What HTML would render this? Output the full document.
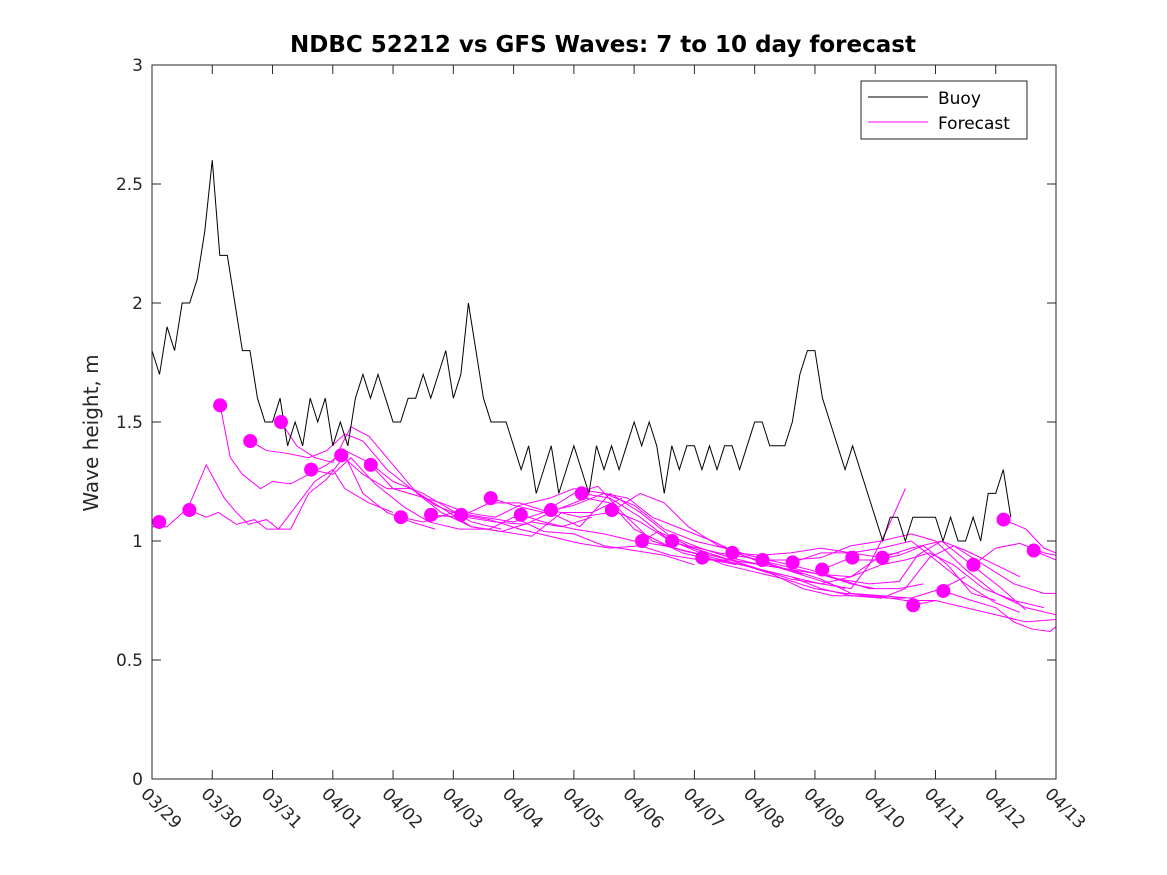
<!DOCTYPE html>
<html><head><meta charset="utf-8"><style>
body{margin:0;background:#fff;}
svg{display:block;font-family:"DejaVu Sans","Liberation Sans",sans-serif;}
</style></head><body>
<svg id="chart" width="1167" height="875"></svg>
<script>
const yTicks=[0,0.5,1,1.5,2,2.5,3];
const yTickLabels=["0","0.5","1","1.5","2","2.5","3"];
const xTickLabels=["03/29","03/30","03/31","04/01","04/02","04/03","04/04","04/05","04/06","04/07","04/08","04/09","04/10","04/11","04/12","04/13"];
const buoyStep=0.125;
const buoy=[1.8,1.7,1.9,1.8,2.0,2.0,2.1,2.3,
2.6,2.2,2.2,2.0,1.8,1.8,1.6,1.5,
1.5,1.6,1.4,1.5,1.4,1.6,1.5,1.6,
1.4,1.5,1.4,1.6,1.7,1.6,1.7,1.6,
1.5,1.5,1.6,1.6,1.7,1.6,1.7,1.8,
1.6,1.7,2.0,1.8,1.6,1.5,1.5,1.5,
1.4,1.3,1.4,1.2,1.3,1.4,1.2,1.3,
1.4,1.3,1.2,1.4,1.3,1.4,1.3,1.4,
1.5,1.4,1.5,1.4,1.2,1.4,1.3,1.4,
1.4,1.3,1.4,1.3,1.4,1.4,1.3,1.4,
1.5,1.5,1.4,1.4,1.4,1.5,1.7,1.8,
1.8,1.6,1.5,1.4,1.3,1.4,1.3,1.2,
1.1,1.0,1.1,1.1,1.0,1.1,1.1,1.1,
1.1,1.0,1.1,1.0,1.0,1.1,1.0,1.2,
1.2,1.3,1.1];
const dotDays=[0.12,0.62,1.13,1.63,2.14,2.64,3.14,3.63,4.13,4.63,5.13,5.62,6.12,6.62,7.13,7.63,8.13,8.63,9.13,9.63,10.13,10.63,11.12,11.62,12.12,12.63,13.13,13.63,14.13,14.63];
const dotVals=[1.08,1.13,1.57,1.42,1.5,1.3,1.36,1.32,1.10,1.11,1.11,1.18,1.11,1.13,1.20,1.13,1.0,1.0,0.93,0.95,0.92,0.91,0.88,0.93,0.93,0.73,0.79,0.90,1.09,0.96];
const fc=[
[[0,1.06],[0.25,1.06],[0.6,1.14],[0.9,1.32],[1.2,1.18],[1.4,1.12],[1.6,1.07],[1.9,1.09],[2.1,1.05],[2.4,1.15],[2.7,1.25],[3.0,1.3],[3.2,1.22],[3.6,1.16],[4.0,1.12]],
[[0.62,1.13],[0.9,1.10],[1.1,1.12],[1.4,1.07],[1.7,1.09],[1.9,1.05],[2.3,1.05],[2.6,1.2],[2.9,1.26],[3.2,1.36],[3.5,1.2],[3.9,1.12],[4.3,1.08],[4.7,1.05]],
[[1.13,1.57],[1.3,1.35],[1.5,1.28],[1.8,1.22],[2.0,1.25],[2.3,1.24],[2.6,1.28],[2.9,1.32],[3.2,1.38],[3.6,1.33],[4.0,1.25],[4.5,1.2],[4.9,1.14],[5.3,1.08],[5.8,1.05]],
[[1.63,1.42],[1.9,1.38],[2.2,1.37],[2.6,1.35],[2.9,1.38],[3.2,1.45],[3.5,1.42],[3.9,1.3],[4.3,1.22],[4.8,1.14],[5.3,1.06],[5.8,1.04],[6.3,1.08],[6.8,1.06],[7.3,1.1]],
[[2.14,1.5],[2.4,1.40],[2.7,1.35],[3.0,1.33],[3.3,1.48],[3.6,1.44],[4.0,1.32],[4.4,1.2],[4.8,1.12],[5.3,1.06],[5.8,1.04],[6.3,1.02],[6.8,1.12],[7.3,1.12],[7.8,1.18]],
[[2.64,1.3],[3.0,1.28],[3.3,1.35],[3.7,1.24],[4.2,1.14],[4.6,1.08],[5.1,1.05],[5.6,1.05],[6.0,1.1],[6.5,1.04],[7.0,1.03],[7.5,0.98],[8.0,0.96],[8.5,0.94],[9.0,0.9]],
[[3.14,1.36],[3.5,1.28],[3.9,1.22],[4.3,1.22],[4.7,1.15],[5.2,1.1],[5.7,1.08],[6.2,1.07],[6.7,1.13],[7.2,1.18],[7.6,1.16],[8.0,1.05],[8.4,1.0],[8.8,0.95],[9.3,0.92],[9.7,0.9]],
[[3.63,1.32],[4.0,1.22],[4.4,1.19],[4.8,1.16],[5.2,1.12],[5.7,1.1],[6.1,1.15],[6.6,1.18],[7.0,1.22],[7.5,1.2],[7.9,1.18],[8.3,1.1],[8.8,1.05],[9.3,1.0],[9.8,0.94],[10.3,0.9],[10.8,0.86]],
[[4.13,1.10],[4.5,1.08],[5.0,1.12],[5.5,1.1],[6.0,1.08],[6.5,1.12],[7.0,1.15],[7.5,1.2],[8.0,1.15],[8.5,1.05],[9.0,1.0],[9.5,0.97],[10.0,0.92],[10.5,0.88],[11.0,0.84],[11.5,0.80]],
[[4.63,1.11],[5.1,1.1],[5.6,1.16],[6.1,1.16],[6.6,1.12],[7.1,1.06],[7.6,1.2],[8.1,1.12],[8.6,1.02],[9.1,0.97],[9.6,0.93],[10.1,0.90],[10.6,0.88],[11.1,0.86],[11.6,0.82],[12.0,0.8]],
[[5.13,1.11],[5.6,1.09],[6.1,1.05],[6.6,1.02],[7.1,0.99],[7.6,0.97],[8.1,0.98],[8.6,0.94],[9.1,0.92],[9.6,0.92],[10.1,0.88],[10.6,0.84],[11.1,0.82],[11.6,0.85],[12.1,0.94],[12.4,0.95]],
[[5.62,1.18],[6.0,1.15],[6.5,1.12],[7.0,1.2],[7.4,1.23],[7.8,1.12],[8.3,1.0],[8.8,0.96],[9.3,0.93],[9.8,0.90],[10.3,0.86],[10.8,0.80],[11.3,0.77],[11.8,0.77],[12.2,0.76],[12.5,0.76]],
[[6.12,1.11],[6.5,1.08],[7.0,1.05],[7.5,1.03],[8.0,1.0],[8.5,0.98],[9.0,0.95],[9.5,0.9],[10.0,0.87],[10.5,0.84],[11.0,0.80],[11.5,0.78],[12.0,0.77],[12.5,0.75],[13.0,0.75]],
[[6.62,1.13],[7.1,1.1],[7.6,1.12],[8.1,1.2],[8.5,1.16],[8.9,1.06],[9.4,0.98],[9.9,0.94],[10.4,0.91],[10.9,0.88],[11.4,0.84],[11.9,0.80],[12.4,0.80],[12.8,0.82]],
[[7.13,1.2],[7.6,1.18],[8.1,1.1],[8.6,1.0],[9.1,0.96],[9.6,0.92],[10.1,0.88],[10.6,0.85],[11.1,0.82],[11.6,0.80],[11.9,0.90],[12.2,1.05],[12.5,1.22]],
[[7.63,1.13],[8.1,1.08],[8.6,1.0],[9.1,0.96],[9.6,0.92],[10.1,0.9],[10.6,0.88],[11.1,0.84],[11.6,0.78],[12.1,0.77],[12.6,0.76],[13.1,0.8],[13.5,0.85]],
[[8.13,1.0],[8.4,1.04],[8.9,0.98],[9.4,0.95],[9.9,0.93],[10.4,0.9],[10.9,0.87],[11.4,0.84],[11.9,0.82],[12.4,0.83],[12.7,0.94],[13.1,1.0],[13.5,0.96],[14.0,0.9],[14.4,0.85]],
[[8.63,1.0],[9.1,0.95],[9.6,0.92],[10.1,0.9],[10.6,0.88],[11.1,0.86],[11.6,0.85],[12.1,0.9],[12.5,0.92],[12.9,0.95],[13.3,0.9],[13.8,0.8],[14.3,0.75],[14.8,0.72]],
[[9.13,0.93],[9.6,0.91],[10.1,0.88],[10.6,0.85],[11.1,0.8],[11.6,0.77],[12.1,0.76],[12.5,0.8],[12.9,0.93],[13.3,0.98],[13.8,0.9],[14.3,0.82],[14.8,0.78],[15,0.78]],
[[9.63,0.95],[10.1,0.94],[10.6,0.95],[11.1,0.97],[11.6,0.95],[12.1,0.93],[12.6,0.97],[13.1,1.0],[13.6,0.9],[14.1,0.8],[14.5,0.71]],
[[10.13,0.92],[10.6,0.92],[11.1,0.93],[11.6,0.98],[12.1,1.0],[12.6,1.03],[13.0,1.0],[13.5,0.88],[14.0,0.78],[14.5,0.72],[15,0.69]],
[[10.63,0.91],[11.1,0.95],[11.6,0.95],[12.1,0.97],[12.6,1.0],[13.0,0.92],[13.5,0.82],[14.0,0.74],[14.4,0.70]],
[[11.12,0.88],[11.5,0.92],[12.0,0.92],[12.4,0.94],[12.8,0.98],[13.2,0.9],[13.6,0.78],[14.0,0.75]],
[[12.63,0.73],[13.0,0.75],[13.5,0.72],[14.0,0.69],[14.5,0.66],[15,0.67]],
[[13.13,0.79],[13.6,0.75],[14.0,0.72],[14.3,0.66],[14.6,0.63],[14.9,0.62],[15,0.64]],
[[13.63,0.9],[14.0,0.97],[14.4,0.99],[14.8,0.95],[15,0.94]],
[[14.13,1.09],[14.5,1.05],[14.8,0.97],[15,0.95]],
[[14.63,0.96],[15,0.92]]
];
const L=152,R=1056,T=65,B=779;
const xS=d=>L+(R-L)*d/15;
const yS=v=>B-(B-T)*v/3;
const svg=document.getElementById('chart');
const NS='http://www.w3.org/2000/svg';
function mk(tag,attrs,parent){const e=document.createElementNS(NS,tag);for(const k in attrs)e.setAttribute(k,attrs[k]);(parent||svg).appendChild(e);return e;}
const defs=mk('defs',{});
const cp=mk('clipPath',{id:'clip'},defs);mk('rect',{x:L,y:T,width:R-L,height:B-T},cp);
const bg=mk('rect',{x:L,y:T,width:R-L,height:B-T,fill:'#fff'});


const g=mk('g',{'clip-path':'url(#clip)'});
fc.forEach((ln,i)=>{
  const p=mk('polyline',{points:ln.map(q=>xS(q[0])+','+yS(q[1])).join(' '),fill:'none',stroke:'#ff00ff','stroke-width':1},g);
  
  
});
const bp=buoy.map((v,i)=>xS(i*buoyStep)+','+yS(v));
const bl=mk('polyline',{points:bp.join(' '),fill:'none',stroke:'#000','stroke-width':1},g);


dotDays.forEach((d,i)=>{
  const c=mk('circle',{cx:xS(d),cy:yS(dotVals[i]),r:7,fill:'#ff00ff'},g);
  
  
});
const fr=mk('rect',{x:L,y:T,width:R-L,height:B-T,fill:'none',stroke:'#262626','stroke-width':1});


yTicks.forEach((v,i)=>{
  const y=yS(v);
  mk('line',{x1:L,x2:L+9,y1:y,y2:y,stroke:'#262626'});
  mk('line',{x1:R,x2:R-9,y1:y,y2:y,stroke:'#262626'});
  const t=mk('text',{x:L-9,y:y+6,'text-anchor':'end','font-size':17,fill:'#262626'});
  t.textContent=yTickLabels[i];
  
  
});
xTickLabels.forEach((s,i)=>{
  const x=xS(i);
  mk('line',{x1:x,x2:x,y1:B,y2:B-9,stroke:'#262626'});
  mk('line',{x1:x,x2:x,y1:T,y2:T+9,stroke:'#262626'});
  const t=mk('text',{x:0,y:0,transform:`translate(${x-12},${B+16}) rotate(45)`,'font-size':17,fill:'#262626'});
  t.textContent=s;
  
  
});
const tt=mk('text',{x:603,y:52,'text-anchor':'middle','font-size':23,'font-weight':'bold',fill:'#000'});
tt.textContent='NDBC 52212 vs GFS Waves: 7 to 10 day forecast';


const yl=mk('text',{x:0,y:0,transform:'translate(98,433) rotate(-90)','text-anchor':'middle','font-size':20,fill:'#262626'});
yl.textContent='Wave height, m';


const lg=mk('g',{});


mk('rect',{x:861,y:81,width:166,height:58,fill:'#fff',stroke:'#262626'},lg);
mk('line',{x1:868,x2:928,y1:97,y2:97,stroke:'#000'},lg);
mk('line',{x1:868,x2:928,y1:122,y2:122,stroke:'#ff00ff'},lg);
const l1=mk('text',{x:938,y:104,'font-size':17,fill:'#000'},lg);l1.textContent='Buoy';


const l2=mk('text',{x:938,y:129,'font-size':17,fill:'#000'},lg);l2.textContent='Forecast';


</script>
</body></html>
